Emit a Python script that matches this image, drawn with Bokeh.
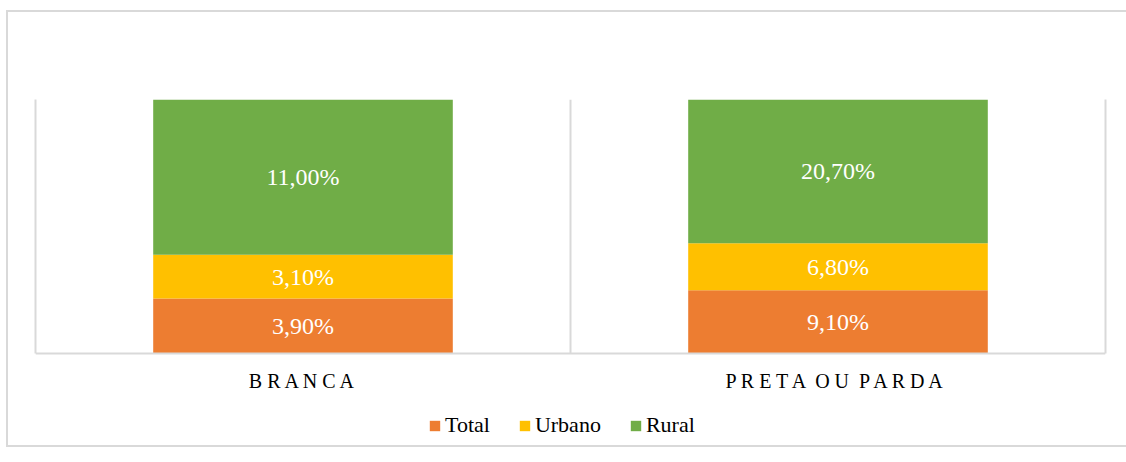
from bokeh.plotting import figure
from bokeh.models import (ColumnDataSource, Legend, LegendItem, LinearAxis, FactorRange,
                          Range1d, FixedTicker)
from bokeh.core.properties import value
from bokeh.embed import file_html
from bokeh.resources import INLINE

categories = ["B R A N C A", "P R E T A \u00a0O U \u00a0P A R D A"]
series = ["Total", "Urbano", "Rural"]
total = [3.9, 9.1]
urbano = [3.1, 6.8]
rural = [11.0, 20.7]
colors = ["#ED7D31", "#FFC000", "#70AD47"]

FONT = "Liberation Serif"
GRID = "#D9D9D9"

# layout: bars occupy 254 px, frame extends below to hold axis labels and legend
BAR_H = 254
FRAME_H = 346
Y_START = -(FRAME_H - BAR_H) / BAR_H

sums = [t + u + r for t, u, r in zip(total, urbano, rural)]
data = {"cat": categories}
raw = {"Total": total, "Urbano": urbano, "Rural": rural}
for s in series:
    data[s] = [v / tot for v, tot in zip(raw[s], sums)]
source = ColumnDataSource(data)

p = figure(x_range=FactorRange(*categories, range_padding=0), y_range=Range1d(Y_START, 1),
           frame_width=1070, frame_height=FRAME_H, output_backend="svg", toolbar_location=None,
           min_border_left=27, min_border_right=30, min_border_top=87, min_border_bottom=0)
p.styles = {"border": "2px solid #D9D9D9", "margin-left": "6px", "margin-top": "10px"}
p.outline_line_color = None
p.xgrid.visible = False
p.ygrid.visible = False

renderers = p.vbar_stack(series, x="cat", width=0.56, color=colors, line_color=None, source=source)

# labels
lx, ly, lt = [], [], []
for i, c in enumerate(categories):
    base = 0.0
    for s in series:
        h = data[s][i]
        lx.append(c)
        ly.append(base + h / 2)
        lt.append(f"{raw[s][i]:.2f}".replace(".", ",") + "%")
        base += h
p.text(x=lx, y=ly, text=lt, text_align="center", text_baseline="middle",
       text_color="white", text_font=value(FONT), text_font_size="24px")

# left / right frame lines limited to the bar area
ya = p.yaxis[0]
ya.ticker = FixedTicker(ticks=[])
ya.bounds = (0, 1)
ya.axis_line_color = GRID
ya.axis_line_width = 2
ya.major_tick_line_color = None
ya.minor_tick_line_color = None
ra = LinearAxis(ticker=FixedTicker(ticks=[]), bounds=(0, 1), axis_line_color=GRID, axis_line_width=2,
                major_tick_line_color=None, minor_tick_line_color=None)
p.add_layout(ra, "right")

# category separator line
p.segment(x0=[1], y0=[0], x1=[1], y1=[1], line_color=GRID, line_width=2)

xa = p.xaxis[0]
xa.fixed_location = 0
xa.axis_line_color = GRID
xa.axis_line_width = 2
xa.major_tick_line_color = None
xa.minor_tick_line_color = None
xa.major_label_text_font = FONT
xa.major_label_text_font_size = "20px"
xa.major_label_text_color = "#000000"
xa.major_label_standoff = 10

legend = Legend(items=[LegendItem(label=s, renderers=[r]) for s, r in zip(series, renderers)],
                orientation="horizontal", location=(393, 7),
                label_text_font=FONT, label_text_font_size="22px", label_text_color="#000000",
                glyph_width=13, glyph_height=13, label_standoff=4, spacing=28,
                border_line_color=None, background_fill_alpha=0, padding=0, margin=0)
p.add_layout(legend, "center")

open("out.html", "w").write(file_html(p, INLINE))
